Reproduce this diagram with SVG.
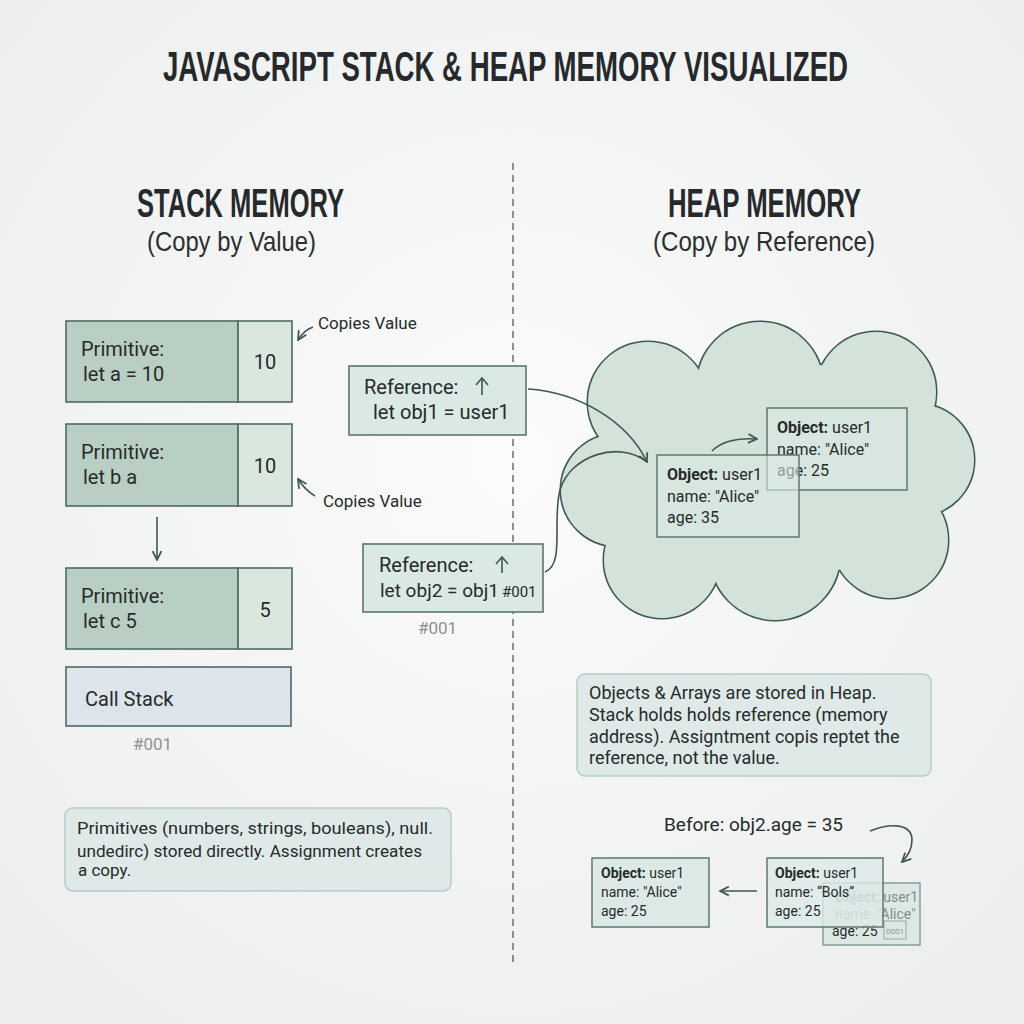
<svg xmlns="http://www.w3.org/2000/svg" width="1024" height="1024" viewBox="0 0 1024 1024">
<defs>
<radialGradient id="bg" cx="50%" cy="45%" r="70%">
<stop offset="0" stop-color="#fafbfa"/>
<stop offset="1" stop-color="#eceeed"/>
</radialGradient>
<marker id="ah" viewBox="0 0 10 10" refX="9" refY="5" markerWidth="11" markerHeight="11" markerUnits="userSpaceOnUse" orient="auto">
<path d="M1,1 L9,5 L1,9" fill="none" stroke="#3e5753" stroke-width="1.6"/>
</marker>
</defs>
<style>
.ttl{font-family:"Liberation Sans",Arial,sans-serif;font-weight:bold;fill:#25292b}
.sub{font-family:"Liberation Sans",Arial,sans-serif;fill:#2b2f31}
.t{font-family:Roboto,"Liberation Sans",sans-serif;fill:#262b2a}
.g{font-family:Roboto,"Liberation Sans",sans-serif;fill:#8d9291}
.dk{fill:#b9cfc3;stroke:#4e6a63;stroke-width:1.6}
.lt{fill:#d9e7df;stroke:#4e6a63;stroke-width:1.6}
.ref{fill:#dbe9e4;stroke:#5b7671;stroke-width:1.6}
.obj{fill:#dbe9e3;fill-opacity:0.6;stroke:#5b7873;stroke-width:1.5}
.note{fill:#dfeae8;stroke:#b8ccc7;stroke-width:1.5}
.ln{fill:none;stroke:#3e5753;stroke-width:1.6}
</style>
<rect width="1024" height="1024" fill="url(#bg)"/>

<text class="ttl" x="163" y="57.9" font-size="30" transform="scale(1,1.4)" textLength="685" lengthAdjust="spacingAndGlyphs">JAVASCRIPT STACK &amp; HEAP MEMORY VISUALIZED</text>
<text class="ttl" x="137" y="217" font-size="41" textLength="207" lengthAdjust="spacingAndGlyphs">STACK MEMORY</text>
<text class="sub" x="147" y="251" font-size="28" textLength="169" lengthAdjust="spacingAndGlyphs">(Copy by Value)</text>
<text class="ttl" x="668" y="217" font-size="41" textLength="193" lengthAdjust="spacingAndGlyphs">HEAP MEMORY</text>
<text class="sub" x="653" y="251" font-size="28" textLength="222" lengthAdjust="spacingAndGlyphs">(Copy by Reference)</text>

<line x1="513" y1="163" x2="513" y2="965" stroke="#6b7a78" stroke-width="1.6" stroke-dasharray="7 5"/>

<g id="prim-a">
<rect class="dk" x="66" y="321" width="172" height="81"/>
<rect class="lt" x="238" y="321" width="54" height="81"/>
<text class="t" x="81" y="356" font-size="20">Primitive:</text>
<text class="t" x="83" y="381" font-size="20">let a = 10</text>
<text class="t" x="265" y="369" font-size="20" text-anchor="middle">10</text>
</g>
<g id="prim-b">
<rect class="dk" x="66" y="424" width="172" height="82"/>
<rect class="lt" x="238" y="424" width="54" height="82"/>
<text class="t" x="81" y="459" font-size="20">Primitive:</text>
<text class="t" x="83" y="484" font-size="20">let b a</text>
<text class="t" x="265" y="473" font-size="20" text-anchor="middle">10</text>
</g>
<g id="prim-c">
<rect class="dk" x="66" y="568" width="172" height="81"/>
<rect class="lt" x="238" y="568" width="54" height="81"/>
<text class="t" x="81" y="603" font-size="20">Primitive:</text>
<text class="t" x="83" y="628" font-size="20">let c 5</text>
<text class="t" x="265" y="617" font-size="20" text-anchor="middle">5</text>
</g>
<g id="call-stack">
<rect x="66" y="667" width="225" height="59" fill="#dde5ea" stroke="#4e6a63" stroke-width="1.6"/>
<text class="t" x="85" y="706" font-size="20">Call Stack</text>
<text class="g" x="133" y="750" font-size="17">#001</text>
</g>
<g id="copies-1">
<text class="t" x="318" y="329" font-size="17">Copies Value</text>
</g>
<g id="copies-2">
<text class="t" x="323" y="507" font-size="17">Copies Value</text>
</g>

<g id="ref-1">
<rect class="ref" x="349" y="366" width="177" height="69"/>
<text class="t" x="364" y="394" font-size="20">Reference:</text>
<path class="ln" d="M482,395 V378 M476,385 L482,378 L488,385" stroke-width="1.4"/>
<text class="t" x="373" y="419" font-size="20">let obj1 = user1</text>
</g>
<g id="ref-2">
<rect class="ref" x="363" y="544" width="180" height="68"/>
<text class="t" x="379" y="572" font-size="20">Reference:</text>
<path class="ln" d="M502,573 V557 M496,564 L502,557 L508,564" stroke-width="1.4"/>
<text class="t" x="380" y="597" font-size="19">let obj2 = obj1</text>
<text class="t" x="502" y="597" font-size="15" fill="#444">#001</text>
<text class="g" x="418" y="634" font-size="17">#001</text>
</g>

<g id="heap-cloud">
<g fill="none" stroke="#3e5a56" stroke-width="3">
<circle cx="617" cy="490" r="56"/>
<circle cx="662" cy="560" r="58"/>
<circle cx="775" cy="555" r="65"/>
<circle cx="890" cy="540" r="58"/>
<circle cx="918" cy="460" r="56"/>
<circle cx="876" cy="392" r="60"/>
<circle cx="760" cy="385" r="63"/>
<circle cx="648" cy="402" r="60"/>
</g>
<g fill="#d3e3da">
<circle cx="617" cy="490" r="56"/>
<circle cx="662" cy="560" r="58"/>
<circle cx="775" cy="555" r="65"/>
<circle cx="890" cy="540" r="58"/>
<circle cx="918" cy="460" r="56"/>
<circle cx="876" cy="392" r="60"/>
<circle cx="760" cy="385" r="63"/>
<circle cx="648" cy="402" r="60"/>
<ellipse cx="770" cy="470" rx="165" ry="110"/>
</g>
</g>

<g id="heap-obj-b">
<rect class="obj" x="767" y="408" width="140" height="82"/>
<text class="t" x="777" y="433" font-size="16"><tspan font-weight="bold">Object:</tspan> user1</text>
<text class="t" x="777" y="455" font-size="16">name: "Alice"</text>
<text class="t" x="777" y="476" font-size="16">age: 25</text>
</g>
<g id="heap-obj-a">
<rect class="obj" x="657" y="455" width="142" height="82"/>
<text class="t" x="667" y="480" font-size="16"><tspan font-weight="bold">Object:</tspan> user1</text>
<text class="t" x="667" y="502" font-size="16">name: "Alice"</text>
<text class="t" x="667" y="523" font-size="16">age: 35</text>
</g>

<g id="note-stack">
<rect class="note" x="65" y="808" width="386" height="83" rx="8"/>
<text class="t" x="77" y="834" font-size="17" textLength="356" lengthAdjust="spacingAndGlyphs">Primitives (numbers, strings, bouleans), null.</text>
<text class="t" x="77" y="857" font-size="17" textLength="345" lengthAdjust="spacingAndGlyphs">undedirc) stored directly. Assignment creates</text>
<text class="t" x="78" y="876" font-size="17">a copy.</text>
</g>
<g id="note-heap">
<rect class="note" x="577" y="674" width="354" height="102" rx="8"/>
<text class="t" x="589" y="699" font-size="18">Objects &amp; Arrays are stored in Heap.</text>
<text class="t" x="589" y="721" font-size="18">Stack holds holds reference (memory</text>
<text class="t" x="589" y="743" font-size="18">address). Assigntment copis reptet the</text>
<text class="t" x="589" y="764" font-size="18">reference, not the value.</text>
</g>

<g id="before">
<text class="t" x="664" y="831" font-size="19">Before: obj2.age = 35</text>
</g>
<g id="obj-left">
<rect x="592" y="858" width="117" height="69" fill="#dde9e6" stroke="#5b7873" stroke-width="1.5"/>
<text class="t" x="601" y="878" font-size="14"><tspan font-weight="bold">Object:</tspan> user1</text>
<text class="t" x="601" y="897" font-size="14">name: "Alice"</text>
<text class="t" x="601" y="916" font-size="14">age: 25</text>
</g>
<g id="obj-back">
<rect x="823" y="883" width="97" height="62" fill="#dce8e3" stroke="#7f9894" stroke-width="1.4"/>
<text class="t" x="835" y="902" font-size="14" fill-opacity="0.5"><tspan font-weight="bold">Object:</tspan> user1</text>
<text class="t" x="835" y="919" font-size="14" fill-opacity="0.5">name: "Alice"</text>
<text class="t" x="832" y="936" font-size="14" fill="#555">age: 25</text>
<rect x="884" y="921" width="22" height="18" fill="none" stroke="#9aaaa7" stroke-width="1"/>
<text class="g" x="895" y="934" font-size="8" text-anchor="middle">0001</text>
</g>
<g id="obj-mid">
<rect x="767" y="858" width="116" height="69" fill="#dde9e6" fill-opacity="0.82" stroke="#5b7873" stroke-width="1.5"/>
<text class="t" x="775" y="878" font-size="14"><tspan font-weight="bold">Object:</tspan> user1</text>
<text class="t" x="775" y="897" font-size="14">name: “Bols”</text>
<text class="t" x="775" y="916" font-size="14">age: 25</text>
</g>

<g id="connectors">
<path class="ln" d="M313,327 Q304,330 298,340" marker-end="url(#ah)" stroke-width="1.3"/>
<path class="ln" d="M315,496 Q305,490 298,479" marker-end="url(#ah)" stroke-width="1.3"/>
<path class="ln" d="M157,517 V560" marker-end="url(#ah)"/>
<path class="ln" d="M528,389 C577,392 627,420 647,462" marker-end="url(#ah)"/>
<path class="ln" d="M545,572 C565,565 552,520 560,490 C570,455 620,440 647,462"/>
<path class="ln" d="M712,451 C722,441 740,438 757,439" marker-end="url(#ah)" stroke-width="1.4"/>
<path class="ln" d="M757,891 H720" marker-end="url(#ah)" stroke-width="1.4"/>
<path class="ln" d="M870,831 C890,823 912,823 912,840 C912,850 908,856 902,862" marker-end="url(#ah)" stroke-width="1.4"/>
</g>
</svg>
